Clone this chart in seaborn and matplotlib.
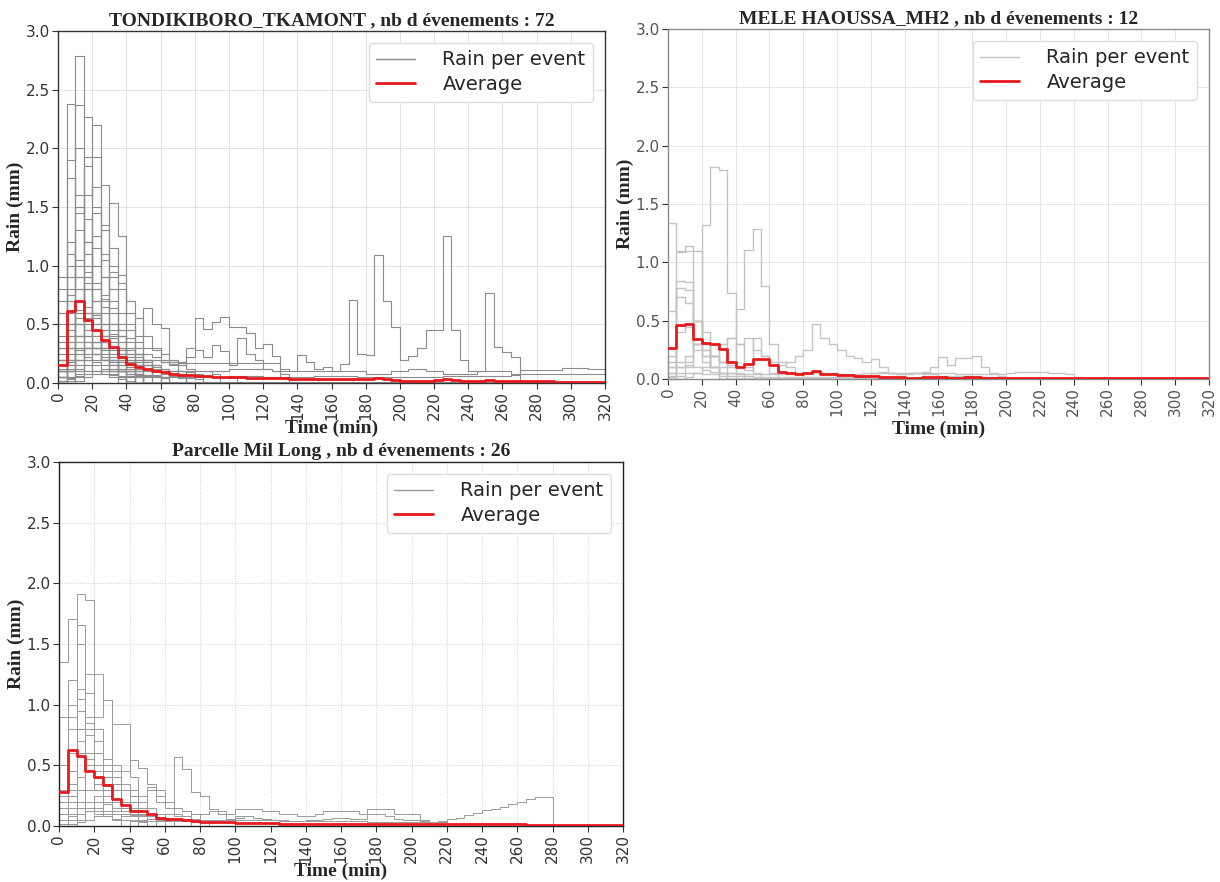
import matplotlib
matplotlib.use("Agg")
import matplotlib.pyplot as plt
import numpy as np
import pandas as pd
import seaborn as sns
from matplotlib.lines import Line2D

# ---------------- data ----------------
time_min = list(range(0, 325, 5))          # 5-minute time steps, 0..320
x_ticks = list(range(0, 340, 20))
y_ticks = [0.0, 0.5, 1.0, 1.5, 2.0, 2.5, 3.0]

title_tondi = "TONDIKIBORO_TKAMONT , nb d évenements : 72"
title_mele = "MELE HAOUSSA_MH2 , nb d évenements : 12"
title_mil = "Parcelle Mil Long , nb d évenements : 26"

legend_labels = ["Rain per event", "Average"]

tondi_events = [
    [0.3, 0.9, 2.79, 1.2, 0.6, 0.3, 0.15, 0.1, 0.05],
    [0.5, 2.38, 1.5, 0.8, 0.4, 0.2, 0.1, 0.05],
    [0.2, 0.7, 2.37, 2.27, 1.0, 0.5, 0.25, 0.1, 0.05],
    [0.1, 0.3, 1.0, 1.93, 1.93, 0.9, 0.5, 0.2, 0.1, 0.05],
    [0.05, 0.2, 0.6, 1.2, 1.67, 1.69, 1.0, 0.5, 0.2, 0.1],
    [0.1, 0.2, 0.4, 0.8, 1.0, 1.3, 1.53, 1.25, 0.6, 0.3, 0.15, 0.05],
    [0.0, 0.1, 0.3, 0.5, 0.7, 0.9, 0.95, 0.92, 0.6, 0.4, 0.2, 0.1],
    [0.2, 0.6, 0.9, 0.8, 0.7, 0.72, 0.64, 0.6, 0.5, 0.3, 0.64, 0.5, 0.47, 0.2, 0.1],
    [0.1, 0.15, 0.2, 0.3, 0.35, 0.4, 0.42, 0.4, 0.38, 0.35, 0.3, 0.28, 0.25, 0.2, 0.18, 0.22,
     0.55, 0.46, 0.52, 0.56, 0.48, 0.48, 0.43, 0.3, 0.33, 0.23, 0.12, 0.1, 0.24, 0.18, 0.12,
     0.14, 0.1, 0.16, 0.71, 0.25, 0.24, 1.09, 0.7, 0.48, 0.2, 0.23, 0.3, 0.45, 0.45, 1.25,
     0.45, 0.2, 0.1, 0.1, 0.77, 0.31, 0.26, 0.22, 0.0],
    [0.8, 1.0, 1.5, 0.9, 0.5, 0.3, 0.2, 0.1, 0.08, 0.05],
    [0.6, 1.9, 2.0, 1.4, 0.8, 0.4, 0.2, 0.1],
    [0.3, 1.75, 1.6, 1.2, 0.6, 0.35, 0.2, 0.1],
    [0.1, 0.4, 1.45, 1.85, 1.5, 0.7, 0.3, 0.15, 0.1],
    [0.05, 0.2, 0.5, 1.0, 1.45, 1.3, 0.8, 0.45, 0.2, 0.1],
    [0.7, 1.1, 0.9, 0.6, 0.4, 0.3, 0.2, 0.12, 0.1, 0.08, 0.07, 0.06, 0.05],
    [0.2, 0.5, 0.7, 0.55, 0.45, 0.35, 0.3, 0.28, 0.25, 0.2, 0.18, 0.15, 0.12, 0.1, 0.1, 0.09, 0.08],
    [0.05, 0.1, 0.25, 0.4, 0.6, 0.75, 0.9, 0.85, 0.7, 0.55, 0.4, 0.3, 0.2, 0.15, 0.1],
    [0.05, 0.1, 0.2, 0.3, 0.25, 0.2, 0.18, 0.15, 0.14, 0.12, 0.12, 0.11, 0.1, 0.1, 0.1, 0.1,
     0.1, 0.1, 0.1, 0.1, 0.12, 0.12, 0.12, 0.12, 0.12, 0.1, 0.1, 0.1, 0.1, 0.1, 0.1, 0.1, 0.1,
     0.1, 0.1, 0.1, 0.08, 0.08, 0.08, 0.1, 0.1, 0.12, 0.12, 0.1, 0.1, 0.08, 0.08, 0.08, 0.08,
     0.1, 0.1, 0.1, 0.1, 0.08, 0.11, 0.11, 0.11, 0.11, 0.11, 0.13, 0.13, 0.13, 0.12, 0.12, 0.1],
    [0.02, 0.05, 0.1, 0.15, 0.1, 0.08, 0.07, 0.06, 0.06, 0.06, 0.06, 0.06, 0.05, 0.05, 0.05,
     0.05, 0.05, 0.05, 0.05, 0.05, 0.06, 0.06, 0.06, 0.06, 0.05, 0.05, 0.05, 0.05, 0.05, 0.05,
     0.06, 0.06, 0.06, 0.06, 0.06, 0.05, 0.05, 0.05, 0.05, 0.05, 0.05, 0.05, 0.05, 0.05, 0.05,
     0.06, 0.06, 0.06, 0.06, 0.06, 0.06, 0.06, 0.06, 0.07, 0.08, 0.08, 0.08, 0.08, 0.08, 0.08,
     0.08, 0.08, 0.08, 0.08, 0.08],
    [0.4, 0.6, 0.5, 0.4, 0.3, 0.2, 0.15, 0.1, 0.05],
    [0.9, 1.2, 0.8, 0.5, 0.3, 0.2, 0.1],
    [0.0, 0.05, 0.2, 0.35, 0.5, 0.65, 0.5, 0.45, 0.35, 0.25, 0.15, 0.1, 0.05],
    [0.05, 0.1, 0.15, 0.2, 0.25, 0.3, 0.35, 0.3, 0.28, 0.25, 0.25, 0.22, 0.2, 0.18, 0.15, 0.12, 0.1, 0.1, 0.08],
    [0.0, 0.1, 0.4, 1.6, 2.2, 1.1, 0.5, 0.2, 0.1],
    [0.2, 0.35, 0.6, 0.9, 1.25, 1.35, 0.7, 0.4, 0.25, 0.15, 0.1],
    [0.1, 0.3, 0.4, 0.3, 0.25, 0.22, 0.2, 0.2, 0.18, 0.18, 0.2, 0.2, 0.18, 0.18, 0.17, 0.17,
     0.17, 0.17, 0.17, 0.17, 0.17, 0.17, 0.17, 0.17, 0.17, 0.17, 0.05],
    [0.2, 0.5, 0.8, 0.6, 0.4, 0.35, 0.3, 0.3, 0.25, 0.22, 0.2, 0.2, 0.18, 0.16, 0.15, 0.3,
     0.28, 0.22, 0.32, 0.27, 0.15, 0.38, 0.25, 0.2, 0.12, 0.1, 0.08],
    [0.05, 0.1, 0.12, 0.15, 0.1, 0.08, 0.05, 0.03, 0.02],
    [0.1, 0.2, 0.25, 0.2, 0.15, 0.1, 0.08, 0.05],
    [0.0, 0.05, 0.1, 0.3, 0.25, 0.2, 0.1, 0.05],
    [0.2, 0.3, 0.28, 0.22, 0.18, 0.15, 0.12, 0.1, 0.08, 0.07, 0.06, 0.05],
    [0.02, 0.04, 0.06, 0.08, 0.1, 0.12, 0.15, 0.12, 0.1, 0.08, 0.06, 0.05, 0.04],
    [0.3, 0.45, 0.4, 0.35, 0.3, 0.25, 0.2, 0.15, 0.1, 0.08],
    [0.0, 0.02, 0.05, 0.1, 0.2, 0.35, 0.3, 0.25, 0.22, 0.2, 0.15, 0.12, 0.1, 0.08, 0.06],
    [0.1, 0.15, 0.2, 0.3, 0.35, 0.3, 0.28, 0.25, 0.2, 0.18, 0.15, 0.14, 0.12, 0.1, 0.1, 0.08,
     0.07, 0.06, 0.05, 0.05, 0.04],
    [0.0, 0.0, 0.02, 0.05, 0.08, 0.1, 0.12, 0.1, 0.08, 0.08, 0.07, 0.06, 0.05, 0.05, 0.04, 0.04, 0.03],
    [0.15, 0.5, 0.62, 0.45, 0.3, 0.2, 0.1, 0.05],
    [0.25, 0.35, 0.5, 0.6, 0.55, 0.4, 0.3, 0.2, 0.15, 0.1],
    [0.05, 0.12, 0.3, 0.45, 0.58, 0.5, 0.45, 0.4, 0.3, 0.25, 0.2, 0.15, 0.1],
    [0.15, 0.25, 0.5, 0.4, 0.3, 0.2, 0.15, 0.1, 0.08, 0.06, 0.05],
    [0.02, 0.03, 0.08, 0.2, 0.3, 0.4, 0.35, 0.3, 0.25, 0.2, 0.15, 0.1, 0.08, 0.06, 0.05],
    [0.6, 0.75, 1.05, 0.95, 0.7, 0.5, 0.3, 0.2, 0.12, 0.08],
    [0.35, 0.8, 1.3, 1.1, 0.85, 0.6, 0.4, 0.25, 0.15],
    [0.1, 0.25, 0.55, 0.85, 1.15, 0.9, 0.6, 0.35, 0.2, 0.1],
    [0.05, 0.15, 0.35, 0.6, 0.8, 1.05, 1.15, 0.8, 0.45, 0.25, 0.12],
    [0.25, 0.4, 0.7, 0.65, 0.55, 0.45, 0.38, 0.3, 0.22, 0.15, 0.1, 0.07],
    [0.12, 0.18, 0.3, 0.25, 0.35, 0.28, 0.22, 0.18, 0.3, 0.25, 0.2, 0.15, 0.12, 0.1, 0.08],
]
tondi_average = [
    0.15, 0.61, 0.70, 0.54, 0.45, 0.37, 0.31, 0.22, 0.16, 0.14,
    0.12, 0.10, 0.09, 0.08, 0.07, 0.065, 0.06, 0.06, 0.055, 0.05,
    0.05, 0.05, 0.045, 0.045, 0.04, 0.04, 0.04, 0.035, 0.035, 0.03,
    0.03, 0.03, 0.03, 0.03, 0.035, 0.03, 0.03, 0.04, 0.03, 0.025,
    0.02, 0.02, 0.02, 0.02, 0.025, 0.03, 0.025, 0.02, 0.02, 0.02,
    0.025, 0.02, 0.02, 0.02, 0.015, 0.015, 0.015, 0.015, 0.01, 0.01,
    0.01, 0.01, 0.01, 0.01, 0.01,
]

mele_events = [
    [1.34, 1.1, 1.1, 0.5, 0.3, 0.2, 0.1, 0.05],
    [0.58, 1.09, 1.14, 1.1, 0.4, 0.1, 0.05],
    [0.15, 0.84, 0.83, 0.5, 0.2, 0.1, 0.05],
    [0.1, 0.78, 0.76, 0.3, 0.2, 0.1],
    [0.03, 0.7, 0.65, 0.25, 0.15, 0.1, 0.05],
    [0.0, 0.05, 0.1, 0.3, 1.32, 1.82, 1.79, 0.74, 0.3, 0.1, 0.05],
    [0.0, 0.0, 0.02, 0.05, 0.1, 0.2, 0.3, 0.35, 0.6, 1.11, 1.29, 0.8, 0.3, 0.15, 0.1, 0.05],
    [0.1, 0.15, 0.2, 0.3, 0.25, 0.2, 0.15, 0.12, 0.3, 0.35, 0.25, 0.2, 0.15, 0.12, 0.15, 0.2,
     0.25, 0.47, 0.35, 0.3, 0.25, 0.2, 0.18, 0.15, 0.17, 0.1, 0.05, 0.04, 0.04, 0.05, 0.04,
     0.04, 0.03, 0.03, 0.03, 0.03, 0.02, 0.02, 0.02, 0.02],
    [0.02, 0.03, 0.05, 0.05, 0.04, 0.04, 0.03, 0.03, 0.03, 0.03, 0.02, 0.02, 0.02, 0.02, 0.02,
     0.02, 0.02, 0.02, 0.02, 0.02, 0.02, 0.02, 0.02, 0.03, 0.05, 0.06, 0.05, 0.04, 0.05, 0.05,
     0.06, 0.1, 0.19, 0.12, 0.18, 0.18, 0.2, 0.1, 0.05, 0.03],
    [0.05, 0.1, 0.12, 0.1, 0.08, 0.06, 0.05, 0.05, 0.04, 0.04, 0.04, 0.04, 0.04, 0.04, 0.04,
     0.05, 0.05, 0.05, 0.05, 0.05, 0.04, 0.04, 0.04, 0.05, 0.05, 0.05, 0.05, 0.05, 0.05, 0.05,
     0.05, 0.05, 0.05, 0.05, 0.04, 0.04, 0.04, 0.04, 0.04, 0.04, 0.05, 0.06, 0.06, 0.06, 0.06,
     0.05, 0.05, 0.04, 0.02],
    [0.2, 0.4, 0.45, 0.3, 0.25, 0.2, 0.15, 0.1, 0.05],
    [0.05, 0.1, 0.15, 0.5, 0.3, 0.2, 0.15, 0.35, 0.1, 0.08, 0.35, 0.2, 0.05],
]
mele_average = [
    0.27, 0.46, 0.47, 0.34, 0.31, 0.30, 0.26, 0.15, 0.10, 0.13,
    0.17, 0.17, 0.12, 0.06, 0.05, 0.04, 0.05, 0.07, 0.04, 0.04,
    0.035, 0.035, 0.03, 0.03, 0.025, 0.02, 0.015, 0.015, 0.01, 0.01,
    0.015, 0.015, 0.02, 0.01, 0.01, 0.015, 0.015, 0.01, 0.005, 0.005,
    0.005, 0.005, 0.005, 0.005, 0.005, 0.005, 0.005, 0.005, 0.005, 0.005,
    0.005, 0.005, 0.005, 0.005, 0.005, 0.005, 0.005, 0.005, 0.005, 0.005,
    0.005, 0.005, 0.005, 0.005, 0.005,
]

mil_events = [
    [1.35, 1.71, 1.5, 0.6, 0.3, 0.1, 0.05],
    [0.2, 1.2, 1.91, 1.86, 0.7, 0.3, 0.1, 0.05],
    [0.1, 0.6, 1.66, 1.25, 0.5, 0.2, 0.1],
    [0.05, 0.3, 0.8, 1.1, 1.25, 1.04, 0.5, 0.2, 0.1],
    [0.0, 0.1, 0.3, 0.6, 0.9, 1.04, 0.84, 0.84, 0.4, 0.2, 0.1, 0.05],
    [0.9, 1.0, 0.95, 0.8, 0.6, 0.4, 0.3, 0.2, 0.1, 0.05],
    [0.3, 0.9, 1.13, 0.9, 0.6, 0.5, 0.4, 0.45, 0.54, 0.48, 0.35, 0.3, 0.2, 0.57, 0.47, 0.28,
     0.25, 0.14, 0.1, 0.05],
    [0.05, 0.1, 0.15, 0.12, 0.1, 0.08, 0.06, 0.05, 0.05, 0.04, 0.04, 0.04,
     0.04, 0.04, 0.04, 0.04, 0.05, 0.05, 0.05, 0.05, 0.05, 0.05, 0.05, 0.05, 0.05, 0.04, 0.04,
     0.04, 0.04, 0.04, 0.04, 0.04, 0.04, 0.04, 0.04, 0.03, 0.03, 0.03, 0.03, 0.03, 0.03, 0.03,
     0.02, 0.04, 0.06, 0.07, 0.09, 0.11, 0.13, 0.14, 0.16, 0.18, 0.2, 0.22, 0.24, 0.24, 0.0],
    [0.1, 0.15, 0.2, 0.15, 0.12, 0.1, 0.1, 0.08, 0.08, 0.08, 0.1, 0.1, 0.1, 0.08, 0.08, 0.1,
     0.1, 0.12, 0.12, 0.1, 0.14, 0.14, 0.14, 0.12, 0.12, 0.1, 0.1, 0.08, 0.08, 0.1, 0.12, 0.12,
     0.12, 0.12, 0.1, 0.14, 0.14, 0.14, 0.1, 0.1, 0.1, 0.05],
    [0.5, 0.8, 0.7, 0.5, 0.4, 0.3, 0.2, 0.15, 0.1, 0.05],
    [0.2, 0.35, 0.6, 0.75, 0.6, 0.45, 0.35, 0.3, 0.25, 0.15, 0.1],
    [0.1, 0.2, 0.4, 0.5, 0.45, 0.5, 0.4, 0.3, 0.2, 0.1, 0.08, 0.06, 0.05, 0.05, 0.04],
    [0.05, 0.1, 0.15, 0.2, 0.25, 0.3, 0.35, 0.3, 0.25, 0.2, 0.32, 0.2, 0.15, 0.1, 0.08, 0.06],
    [0.3, 0.25, 0.2, 0.15, 0.1, 0.08, 0.06, 0.05, 0.04, 0.03],
    [0.0, 0.1, 0.2, 0.3, 0.35, 0.25, 0.2, 0.15, 0.1, 0.08, 0.06, 0.05, 0.05, 0.04, 0.04, 0.03],
    [0.15, 0.35, 0.6, 0.55, 0.5, 0.4, 0.3, 0.2, 0.15, 0.1],
    [0.02, 0.05, 0.1, 0.15, 0.2, 0.18, 0.15, 0.12, 0.1, 0.09, 0.08, 0.07, 0.06, 0.06, 0.05,
     0.05, 0.05, 0.04, 0.05, 0.06, 0.07, 0.08, 0.07, 0.06, 0.05],
    [0.25, 0.45, 1.05, 0.85, 0.4, 0.2, 0.1],
    [0.1, 0.2, 0.3, 0.6, 0.8, 0.55, 0.35, 0.2, 0.1, 0.05],
    [0.05, 0.08, 0.1, 0.12, 0.15, 0.12, 0.1, 0.1, 0.09, 0.08, 0.08, 0.07, 0.07, 0.06, 0.06,
     0.06, 0.05, 0.05, 0.05, 0.06, 0.08, 0.08, 0.07, 0.06, 0.05, 0.05, 0.04, 0.04, 0.05, 0.05,
     0.06, 0.07, 0.07, 0.06, 0.06, 0.1, 0.1, 0.08, 0.06, 0.05, 0.05, 0.04, 0.03, 0.03, 0.02],
    [0.0, 0.0, 0.05, 0.15, 0.2, 0.35, 0.45, 0.35, 0.3, 0.2, 0.15, 0.1, 0.05],
    [0.02, 0.02, 0.03, 0.05, 0.08, 0.1, 0.12, 0.15, 0.2, 0.25, 0.3, 0.25, 0.2, 0.15, 0.12, 0.1, 0.05],
]
mil_average = [
    0.28, 0.63, 0.58, 0.45, 0.40, 0.34, 0.22, 0.17, 0.12, 0.12,
    0.10, 0.07, 0.06, 0.055, 0.05, 0.04, 0.035, 0.03, 0.03, 0.03,
    0.025, 0.025, 0.025, 0.025, 0.025, 0.02, 0.02, 0.02, 0.02, 0.02,
    0.02, 0.02, 0.02, 0.02, 0.02, 0.02, 0.02, 0.02, 0.02, 0.02,
    0.02, 0.015, 0.015, 0.015, 0.015, 0.015, 0.015, 0.015, 0.015, 0.015,
    0.015, 0.015, 0.015, 0.01, 0.01, 0.01, 0.01, 0.01, 0.01, 0.01,
    0.01, 0.01, 0.01, 0.01, 0.01,
]

# ---------------- style ----------------
sns.set_style("ticks")
plt.rcParams["font.family"] = ["DejaVu Sans"]
SERIF = "Liberation Serif"
RED = "#e41a1c"


def events_frame(events):
    rows = []
    n = len(time_min)
    for k, ev in enumerate(events):
        vals = list(ev)[:n] + [0.0] * max(0, n - len(ev))
        for t, v in zip(time_min, vals):
            rows.append((k, t, v))
    return pd.DataFrame(rows, columns=["event", "time", "rain"])


def draw_panel(ax, events, average, title, gray, lw, spine_color, grid_ls, grid_color,
               xlabel_y, tick_color):
    df = events_frame(events)
    sns.lineplot(data=df, x="time", y="rain", units="event", estimator=None,
                 color=gray, lw=lw, drawstyle="steps-post", ax=ax, legend=False, zorder=2)
    avg = pd.DataFrame({"time": time_min, "rain": average[:len(time_min)]})
    sns.lineplot(data=avg, x="time", y="rain", color=RED, lw=2.0,
                 drawstyle="steps-post", ax=ax, legend=False, zorder=3)
    ax.set_xlim(0, 320)
    ax.set_ylim(0, 3.0)
    ax.set_xticks(x_ticks)
    ax.set_yticks(y_ticks)
    ax.set_xticklabels([str(v) for v in x_ticks], rotation=90)
    ax.set_yticklabels([f"{v:.1f}" for v in y_ticks])
    ax.tick_params(labelsize=11, labelcolor=tick_color, color="#333333", length=4,
                   width=0.8, pad=2)
    ax.grid(True, color=grid_color, lw=0.7, ls=grid_ls, zorder=0)
    ax.set_axisbelow(True)
    for s in ax.spines.values():
        s.set_color(spine_color)
        s.set_linewidth(1.0)
    ax.set_title(title, fontfamily=SERIF, fontweight="bold", fontsize=14, pad=4)
    ax.set_ylabel("Rain (mm)", fontfamily=SERIF, fontweight="bold", fontsize=14, labelpad=1)
    ax.set_xlabel("Time (min)", fontfamily=SERIF, fontweight="bold", fontsize=14)
    ax.xaxis.set_label_coords(0.5, xlabel_y)
    handles = [Line2D([], [], color=gray, lw=1.0), Line2D([], [], color=RED, lw=2.0)]
    leg = ax.legend(handles, legend_labels, loc="upper right", fontsize=14, frameon=True,
                    fancybox=True, framealpha=1.0, borderpad=0.4, labelspacing=0.3,
                    handletextpad=1.4, borderaxespad=0.6)
    leg.get_frame().set_edgecolor("#dddddd")
    leg.get_frame().set_linewidth(1.0)


fig = plt.figure(figsize=(12.2, 8.82), dpi=100)
ax_a = fig.add_axes([58 / 1220, 1 - 383 / 882, 547 / 1220, 352 / 882])
ax_b = fig.add_axes([668 / 1220, 1 - 379 / 882, 541 / 1220, 350 / 882])
ax_c = fig.add_axes([59 / 1220, 1 - 826 / 882, 564 / 1220, 364 / 882])

draw_panel(ax_a, tondi_events, tondi_average, title_tondi, "#8c8c8c", 0.8,
           "#333333", "-", "#e3e3e3", -0.105, "#333333")
draw_panel(ax_b, mele_events, mele_average, title_mele, "#c4c4c4", 1.0,
           "#8a8a8a", "-", "#e6e6e6", -0.118, "#555555")
draw_panel(ax_c, mil_events, mil_average, title_mil, "#9a9a9a", 0.7,
           "#222222", ":", "#cfcfcf", -0.10, "#333333")

fig.savefig("out.png", dpi=100)
